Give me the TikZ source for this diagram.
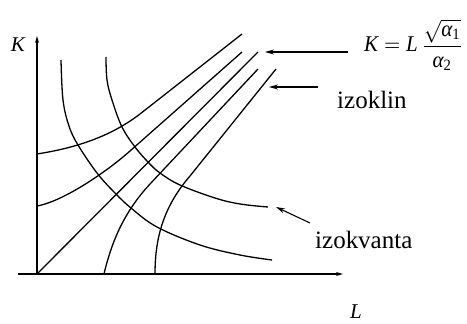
\documentclass[tikz,border=0pt]{standalone}
\usepackage{fontspec}
\setmainfont{Liberation Serif}
\usetikzlibrary{arrows.meta}
\tikzset{
  curve/.style={line width=1.3pt, black},
  axis/.style={line width=1.2pt, -{Stealth[length=7pt,width=4pt]}},
  pointer/.style={line width=1.1pt, -{Stealth[length=9pt,width=5pt]}},
  lbl/.style={inner sep=0pt, font=\fontsize{25}{28}\selectfont},
  axlbl/.style={inner sep=0pt, font=\fontsize{21}{24}\selectfont\itshape},
}
\begin{document}
\begin{tikzpicture}[x=1pt,y=-1pt]
\useasboundingbox (0,0) rectangle (467,324);
% axes
\coordinate (O) at (37,274);
\coordinate (xs) at (18,274);
\coordinate (xe) at (343,274);
\coordinate (ye) at (37,36);
\draw[axis] (xs) -- (xe);
\draw[axis] (O) -- (ye);
\node[axlbl, anchor=base] (Klab) at (18,52) {K};
\node[axlbl, anchor=base] (Llab) at (356,318) {L};
% isoclines
\draw[curve] (37,154) .. controls (75,148) and (110,137) .. (140,114) -- (242,34);
\draw[curve] (37,206) .. controls (65,201) and (110,169) .. (130,151) -- (242,52);
\draw[curve] (O) -- (258,52);
\draw[curve] (104,274) .. controls (112,240) and (125,211) .. (150,184) -- (258,69);
\draw[curve] (155,274) .. controls (155,235) and (165,205) .. (190,176) -- (276,69);
% isoquants
\draw[curve] plot[smooth, tension=0.6] coordinates {(61,60) (63,100) (69,126) (78,145) (97,173) (115,193) (131,208) (157,227) (200,245) (240,255) (272,260)};
\draw[curve] plot[smooth, tension=0.6] coordinates {(106,57) (107,80) (112,100) (122,127) (135,147) (148,162) (160,173) (180,185) (215,198) (240,204) (268,207)};
% labels and pointers
\node[inner sep=0pt, anchor=west] (form) at (364,45) {\scalebox{2.1}[2.25]{$\displaystyle \textit{K} = \textit{L}\,\frac{\sqrt{\textit{α}_{\textup{\scriptsize 1}}}}{\textit{α}_{\textup{\scriptsize 2}}}$}};
\node[lbl, anchor=base west] (izoklin) at (337,108) {izoklin};
\node[lbl, anchor=base west] (izokv) at (315,248) {izokvanta};
\coordinate (p1) at (265,52);
\coordinate (p2) at (269,87);
\coordinate (p3) at (276,207);
\coordinate (s1) at (348,52);
\coordinate (s2) at (318,87);
\coordinate (s3) at (310,223);
\draw[pointer] (s1) -- (p1);
\draw[pointer] (s2) -- (p2);
\draw[pointer] (s3) -- (p3);
\end{tikzpicture}
\end{document}
